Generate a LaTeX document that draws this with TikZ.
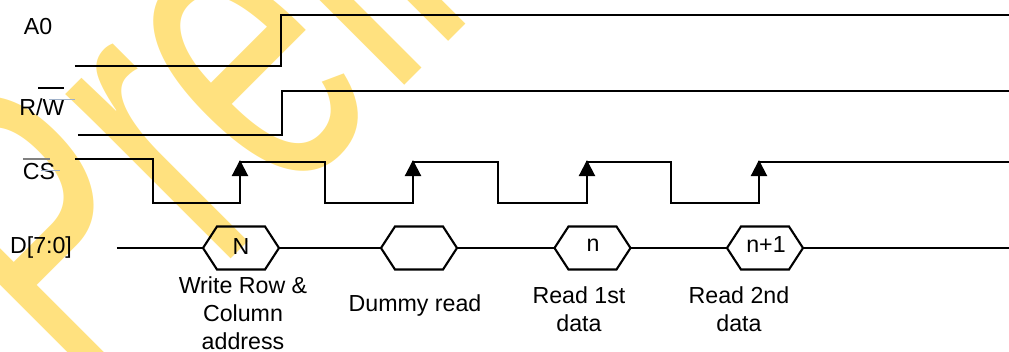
\documentclass[tikz,border=0pt]{standalone}
\usepackage{fontspec}
\setmainfont{Liberation Sans}
\usetikzlibrary{arrows.meta}
\definecolor{stamp}{HTML}{FFE17F}
\definecolor{smudge}{HTML}{9FB0C8}
\tikzset{
    wave/.style={black, line width=0.6pt, line join=miter},
    edge/.style={wave, -{Triangle[width=1.6mm,length=1.6mm]}},
    datum/.style={minimum width=7.6mm, minimum height=4.3mm, inner sep=0pt, outer sep=0pt},
    caption/.style={font=\fontsize{6.6}{8}\selectfont, align=center, inner sep=0pt},
}
\begin{document}
\begin{tikzpicture}
        \useasboundingbox (0,0) rectangle (10.09,3.51);
        \clip (0,0) rectangle (10.09,3.51);
        
        % Watermark.
        \node[stamp, font=\fontsize{79}{80}\selectfont, rotate=45, yscale=1.59, anchor=base west, inner sep=0pt] (watermark) at (0.86,-0.53) {Prelim};
        
        \coordinate (A0start) at (0.75,2.85);
        \coordinate (RWstart) at (0.78,2.16);
        \coordinate (CSstart) at (0.75,1.92);
        \coordinate (Dstart) at (1.17,1.03);
        \coordinate (Dend) at (10.09,1.03);
        
        % Signal names.
        \node[caption] (A0) at (0.38,3.24) {A0};
        \node[caption] (RW) at (0.42,2.44) {R/W};
        \node[caption] (CS) at (0.39,1.79) {CS};
        \node[caption] (D) at (0.41,1.04) {D[7:0]};
        \draw[black, line width=0.3pt] (0.38,2.63) -- (0.64,2.63);
        \draw[gray, line width=0.3pt] (0.23,1.92) -- (0.50,1.92);
        \draw[smudge, line width=0.25pt] (0.49,2.52) -- (0.75,2.52);
        \draw[smudge, line width=0.25pt] (0.41,1.81) -- (0.60,1.81);
        
        % A0 and R/W.
        \draw[wave] (A0start) -- (2.81,2.85) -- (2.81,3.36) -- (10.09,3.36);
        \draw[wave] (RWstart) -- (2.82,2.16) -- (2.82,2.60) -- (10.09,2.60);
        
        % CS pulses.
        \draw[wave] (CSstart) -- (1.53,1.92) -- (1.53,1.48) -- (2.40,1.48) -- (2.40,1.89)
            -- (3.25,1.89) -- (3.25,1.48) -- (4.13,1.48) -- (4.13,1.89)
            -- (4.98,1.89) -- (4.98,1.48) -- (5.87,1.48) -- (5.87,1.89)
            -- (6.71,1.89) -- (6.71,1.48) -- (7.59,1.48) -- (7.59,1.89) -- (10.09,1.89);
        \foreach \x in {2.40,4.13,5.87,7.59}
            \draw[edge] (\x,1.60) -- (\x,1.91);
        
        % Data bus.
        \node[datum] (N) at (2.41,1.03) {};
        \node[datum] (dummy) at (4.19,1.03) {};
        \node[datum] (n) at (5.925,1.03) {};
        \node[datum] (n1) at (7.65,1.03) {};
        \foreach \h in {N,dummy,n,n1}
            \draw[wave] (\h.west) -- ([xshift=1.4mm]\h.north west) -- ([xshift=-1.4mm]\h.north east) -- (\h.east)
                -- ([xshift=-1.4mm]\h.south east) -- ([xshift=1.4mm]\h.south west) -- cycle;
        \node[caption] at (2.41,1.04) {N};
        \node[caption] at (5.93,1.06) {n};
        \node[caption] at (7.66,1.06) {n+1};
        \draw[wave] (Dstart) -- (N.west);
        \draw[wave] (N.east) -- (dummy.west);
        \draw[wave] (dummy.east) -- (n.west);
        \draw[wave] (n.east) -- (n1.west);
        \draw[wave] (n1.east) -- (Dend);
        
        % Captions.
        \node[caption] (write) at (2.43,0.38) {Write Row \&\\Column\\address};
        \node[caption] (skip) at (4.15,0.46) {Dummy read};
        \node[caption] (first) at (5.79,0.42) {Read 1st\\data};
        \node[caption] (second) at (7.39,0.42) {Read 2nd\\data};
        
    \end{tikzpicture}
\end{document}
